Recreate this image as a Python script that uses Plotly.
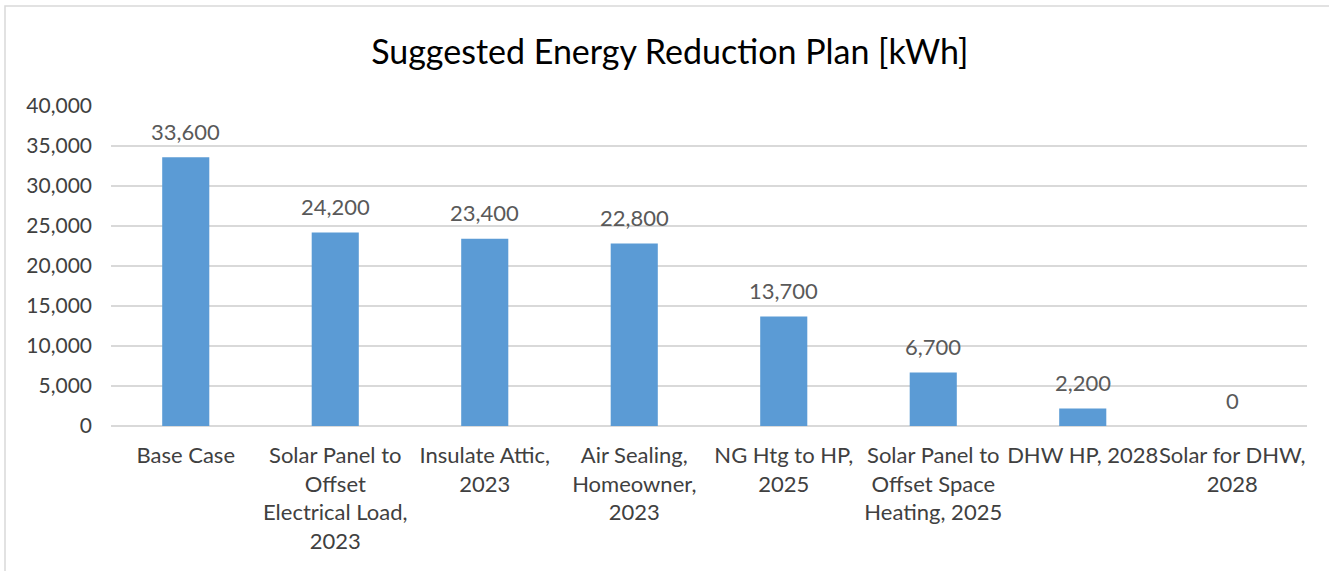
import plotly.graph_objects as go

categories = [
    "Base Case",
    "Solar Panel to<br>Offset<br>Electrical Load,<br>2023",
    "Insulate Attic,<br>2023",
    "Air Sealing,<br>Homeowner,<br>2023",
    "NG Htg to HP,<br>2025",
    "Solar Panel to<br>Offset Space<br>Heating, 2025",
    "DHW HP, 2028",
    "Solar for DHW,<br>2028",
]
values = [33600, 24200, 23400, 22800, 13700, 6700, 2200, 0]
y_ticks = [0, 5000, 10000, 15000, 20000, 25000, 30000, 35000, 40000]

FONT = "Lato"
BAR = "#5B9BD5"
GRID = "#D9D9D9"

fig = go.Figure()
fig.add_trace(go.Bar(
    x=categories, y=values, marker=dict(color=BAR, line=dict(width=0)),
    hoverinfo="skip",
))

for c, v in zip(categories, values):
    fig.add_annotation(
        x=c, y=v, text=f"{v:,}", showarrow=False, yanchor="middle", yshift=26,
        font=dict(family=FONT, size=22, color="#595959"),
    )

fig.add_shape(type="rect", xref="paper", yref="paper",
              x0=(5 - 111) / 1196, x1=1.2, y0=-1.0, y1=(426 - 6) / 320,
              line=dict(color=GRID, width=1.5), fillcolor="rgba(0,0,0,0)", layer="below")

fig.update_layout(
    width=1329, height=571,
    margin=dict(l=111, r=22, t=106, b=145),
    paper_bgcolor="white", plot_bgcolor="white",
    bargap=0.685,
    showlegend=False,
    font=dict(family=FONT, color="#404040"),
    title=dict(text="Suggested Energy Reduction Plan [kWh]", x=0.504, xref="container",
               xanchor="center", y=1 - 52 / 571, yref="container", yanchor="middle",
               font=dict(family=FONT, size=34, color="#000000")),
    xaxis=dict(showgrid=False, showline=False, zeroline=False, ticks="",
               tickfont=dict(family=FONT, size=22, color="#404040"),
               ticklabelstandoff=14, tickangle=0),
    yaxis=dict(range=[0, 40000], tickvals=y_ticks, tickformat=",",
               showgrid=True, gridcolor=GRID, gridwidth=1.5,
               zeroline=True, zerolinecolor=GRID, zerolinewidth=1.5,
               showline=False, ticks="",
               tickfont=dict(family=FONT, size=21, color="#404040"),
               ticklabelstandoff=18),
)

fig.write_html("out.html")
